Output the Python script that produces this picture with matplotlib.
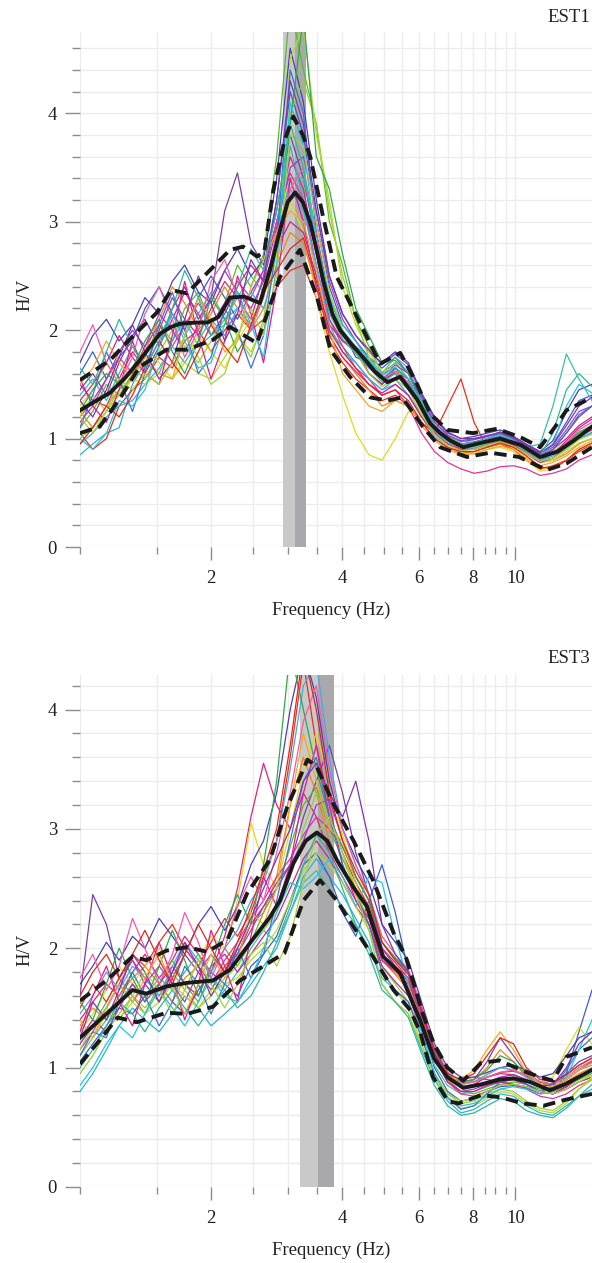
import matplotlib
matplotlib.use("Agg")
import matplotlib.pyplot as plt
from matplotlib.ticker import NullFormatter

plt.rcParams['font.family'] = ['Liberation Serif', 'DejaVu Serif']
plt.rcParams['font.size'] = 13.5

# frequency grid of the single windows (Hz)
FREQ = [1.00, 1.07, 1.15, 1.23, 1.32, 1.41, 1.52, 1.63, 1.74, 1.87,
        2.00, 2.15, 2.30, 2.47, 2.64, 2.83, 3.04, 3.26, 3.49, 3.74,
        4.01, 4.30, 4.61, 4.94, 5.30, 5.68, 6.09, 6.52, 6.99, 7.50,
        8.04, 8.61, 9.23, 9.90, 10.6, 11.4, 12.2, 13.1, 14.0, 15.0]

WIN_COLORS = ['#d6267f', '#7b3fa0', '#5cb82e', '#2ab3d6', '#e8301c', '#3b5fc9',
              '#e3d91a', '#3cbfa0', '#f0841a', '#e0359a', '#4a3fb5', '#93cf3a',
              '#c2288e', '#49a6e8', '#9a3fbf', '#bcd62a', '#e8188c', '#2fa84f',
              '#3f6fd8', '#f25aa8', '#23c4e0', '#f5a623', '#8034b0', '#a6d23b',
              '#d9291f', '#2db89a']

# ---- EST1 : single window H/V curves
EST1_WINDOWS = [
    [1.20,1.35,1.30,1.55,1.80,1.65,2.00,2.30,2.10,1.95,2.20,2.45,2.30,2.10,2.50,3.00,3.60,3.30,2.70,2.10,1.90,1.85,1.60,1.50,1.65,1.50,1.25,1.08,0.98,0.90,0.92,0.98,1.02,0.95,0.88,0.80,0.86,0.98,1.10,1.18],
    [1.45,1.60,1.40,1.70,1.95,2.10,1.85,2.20,2.40,2.10,2.30,3.10,3.45,2.80,2.60,3.10,3.80,3.40,2.80,2.30,2.00,1.75,1.70,1.55,1.60,1.45,1.30,1.12,1.00,0.95,0.97,1.00,1.05,0.98,0.90,0.82,0.90,1.05,1.20,1.30],
    [1.10,1.25,1.50,1.40,1.60,1.75,2.05,1.90,2.20,2.35,2.05,2.25,2.60,2.40,2.70,3.60,5.00,4.40,3.90,3.00,2.60,2.10,1.85,1.60,1.70,1.55,1.30,1.10,1.02,0.95,0.93,0.96,1.00,0.97,0.91,0.85,0.88,0.95,1.05,1.12],
    [0.85,0.95,1.05,1.10,1.50,1.70,1.60,1.90,2.10,1.85,1.95,2.10,2.20,2.05,2.30,2.90,3.70,3.20,2.50,2.00,1.85,1.70,1.55,1.45,1.55,1.40,1.22,1.06,0.96,0.92,0.92,0.95,1.00,0.95,0.88,0.80,0.84,0.92,1.00,1.06],
    [1.05,0.90,1.00,1.30,1.45,1.55,1.75,1.65,1.90,2.00,1.80,2.00,2.15,2.00,2.10,2.40,2.55,2.60,2.30,1.90,1.70,1.55,1.45,1.35,1.40,1.30,1.15,1.05,1.30,1.55,1.15,0.92,0.95,0.90,0.80,0.72,0.75,0.80,0.88,0.95],
    [1.60,1.80,1.55,1.75,1.90,2.20,2.40,2.15,2.00,2.30,2.50,2.30,2.10,2.35,2.55,3.20,4.20,3.80,3.00,2.40,2.05,1.90,1.75,1.65,1.75,1.60,1.35,1.15,1.03,0.97,0.99,1.02,1.06,1.00,0.93,0.86,0.95,1.15,1.35,1.40],
    [1.30,1.45,1.70,1.55,1.60,1.85,1.70,1.55,1.75,1.95,1.80,1.65,1.90,2.10,2.30,2.70,3.20,2.90,2.30,1.80,1.40,1.05,0.85,0.80,1.00,1.25,1.20,1.05,0.95,0.88,0.86,0.90,0.92,0.88,0.80,0.70,0.72,0.80,0.90,0.95],
    [1.40,1.55,1.35,1.60,1.85,1.70,1.95,2.15,1.95,2.15,2.35,2.10,2.30,2.50,2.35,2.80,3.40,3.40,2.90,2.30,2.00,1.85,1.75,1.60,1.75,1.65,1.35,1.12,1.02,0.98,0.96,1.00,1.04,0.99,0.92,0.95,1.30,1.78,1.55,1.35],
    [1.25,1.10,1.30,1.45,1.55,1.80,2.10,2.40,2.25,2.00,2.15,2.40,2.20,2.00,2.20,2.60,2.90,2.80,2.40,1.95,1.75,1.60,1.45,1.30,1.35,1.30,1.15,1.00,0.92,0.86,0.88,0.92,0.95,0.92,0.86,0.78,0.80,0.86,0.95,1.00],
    [1.15,1.30,1.55,1.75,1.60,1.85,2.05,1.85,2.05,2.25,2.05,2.25,2.45,2.30,2.55,3.00,3.45,3.20,2.60,2.10,1.85,1.65,1.55,1.40,1.45,1.30,1.05,0.88,0.78,0.72,0.68,0.70,0.74,0.75,0.72,0.66,0.68,0.72,0.80,0.85],
    [1.70,1.95,2.10,1.90,2.05,2.30,2.15,2.45,2.60,2.35,2.25,2.55,2.75,2.50,2.65,3.40,4.60,4.10,3.20,2.50,2.15,1.95,1.80,1.70,1.80,1.70,1.42,1.20,1.06,1.00,1.02,1.05,1.08,1.02,0.95,0.88,0.98,1.25,1.45,1.50],
    [1.00,1.10,1.25,1.45,1.65,1.55,1.80,2.00,1.85,1.70,1.90,2.10,1.95,1.75,2.10,2.90,4.00,4.30,3.90,3.10,2.50,2.10,1.75,1.55,1.62,1.52,1.30,1.10,0.98,0.92,0.92,0.96,0.99,0.95,0.88,0.82,0.86,0.95,1.05,1.10],
    [1.35,1.50,1.70,1.95,1.75,1.60,1.85,2.10,2.35,2.15,1.95,2.15,2.40,2.60,2.45,2.75,3.00,2.90,2.50,2.05,1.90,1.80,1.60,1.50,1.62,1.55,1.32,1.12,1.00,0.95,0.96,1.00,1.02,0.98,0.92,0.85,0.90,1.00,1.12,1.20],
    [0.95,1.05,1.20,1.30,1.35,1.50,1.65,1.85,1.70,1.90,2.10,1.95,2.20,2.35,2.20,2.60,3.30,3.10,2.60,2.05,1.80,1.70,1.55,1.45,1.50,1.40,1.20,1.02,0.94,0.90,0.91,0.95,0.98,0.94,0.87,0.80,0.82,0.90,1.00,1.05],
    [1.50,1.35,1.55,1.80,2.00,1.85,2.15,2.00,1.80,2.05,2.30,2.55,2.35,2.20,2.45,2.95,3.50,3.60,3.10,2.45,2.10,1.90,1.72,1.58,1.68,1.60,1.38,1.15,1.03,0.98,1.00,1.03,1.05,1.00,0.93,0.86,0.92,1.08,1.25,1.30],
    [1.20,1.40,1.25,1.40,1.55,1.50,1.60,1.55,1.70,1.60,1.55,1.75,1.95,1.80,2.05,2.70,4.50,4.80,3.80,3.20,2.40,2.05,1.80,1.62,1.65,1.50,1.25,1.05,0.95,0.90,0.90,0.93,0.96,0.93,0.86,0.78,0.80,0.88,0.96,1.00],
    [1.55,1.30,1.15,1.45,1.90,1.60,1.50,1.95,2.45,1.95,1.55,1.90,2.50,2.15,1.70,2.40,3.40,3.00,2.40,1.95,1.75,1.62,1.50,1.42,1.50,1.40,1.20,1.05,0.95,0.90,0.90,0.94,0.98,0.94,0.86,0.78,0.82,0.92,1.02,1.08],
    [1.25,1.45,1.60,1.50,1.65,1.90,2.10,1.80,1.60,1.90,2.30,2.10,1.80,2.00,2.40,2.80,3.90,4.90,3.60,3.30,2.70,2.20,1.95,1.70,1.72,1.60,1.32,1.10,1.00,0.95,0.95,0.98,1.00,0.96,0.89,0.83,0.87,0.96,1.06,1.12],
    [1.10,1.40,1.80,1.55,1.25,1.60,2.05,2.35,2.00,1.60,1.75,2.20,2.00,1.65,1.95,2.80,4.40,4.00,2.90,2.25,1.95,1.80,1.65,1.55,1.65,1.55,1.30,1.10,0.99,0.94,0.94,0.98,1.02,0.97,0.90,0.83,0.90,1.05,1.22,1.30],
    [1.80,2.05,1.70,1.50,1.75,2.15,2.40,2.10,1.75,2.00,2.45,2.65,2.30,2.00,2.30,2.90,3.30,3.50,2.90,2.20,1.95,1.85,1.68,1.55,1.62,1.52,1.28,1.08,0.98,0.93,0.94,0.98,1.01,0.96,0.89,0.82,0.86,0.96,1.08,1.15],
    [1.00,0.90,1.05,1.35,1.30,1.45,1.85,2.15,1.90,1.65,1.70,2.05,2.35,2.05,1.75,2.60,4.10,3.70,2.80,2.30,2.05,1.90,1.72,1.58,1.66,1.55,1.32,1.12,1.00,0.95,0.96,1.00,1.03,0.98,0.90,0.84,0.95,1.30,1.50,1.42],
    [1.50,1.65,1.90,1.70,1.55,1.75,1.60,1.55,1.95,2.30,2.10,1.80,1.90,2.40,2.65,2.90,3.10,3.00,2.55,2.00,1.60,1.45,1.30,1.25,1.35,1.30,1.12,0.98,0.90,0.85,0.86,0.90,0.93,0.90,0.82,0.75,0.78,0.84,0.92,0.98],
    [1.35,1.20,1.45,1.75,2.05,1.80,1.55,1.70,2.10,2.50,2.25,1.90,2.15,2.65,2.45,3.20,4.30,3.90,3.10,2.50,2.15,1.95,1.82,1.68,1.78,1.68,1.40,1.18,1.05,1.00,1.00,1.02,1.06,1.01,0.94,0.87,0.94,1.12,1.30,1.38],
    [1.20,1.05,1.25,1.55,1.45,1.60,1.50,1.70,1.95,1.75,1.50,1.60,1.95,2.20,1.95,2.50,3.80,3.70,3.00,2.35,2.00,1.80,1.60,1.48,1.55,1.45,1.22,1.04,0.94,0.89,0.90,0.94,0.97,0.93,0.86,0.79,0.82,0.90,0.99,1.04],
    [0.95,1.10,1.30,1.20,1.40,1.65,1.90,1.70,1.55,1.80,2.05,1.85,1.70,2.05,2.35,2.55,2.75,2.85,2.45,2.00,1.80,1.65,1.50,1.40,1.45,1.35,1.15,1.00,0.92,0.88,0.88,0.92,0.96,0.92,0.84,0.74,0.72,0.80,0.90,0.96],
    [1.65,1.50,1.80,2.10,1.85,1.65,1.90,2.20,2.55,2.30,1.95,2.05,2.40,2.75,2.55,3.10,3.90,3.50,2.75,2.15,1.92,1.78,1.66,1.52,1.60,1.50,1.28,1.08,0.98,0.93,0.93,0.97,1.00,0.96,0.89,0.84,1.05,1.45,1.60,1.48],
]

# EST1 average and +/- std curves
EST1_MEAN_F = [1.00,1.08,1.17,1.27,1.37,1.45,1.53,1.62,1.70,1.85,1.96,2.08,2.21,2.38,2.59,2.73,2.88,3.00,3.12,3.25,3.38,3.50,3.62,3.80,3.96,4.20,4.47,4.75,5.08,5.44,5.95,6.37,6.72,7.10,7.59,8.32,9.22,10.3,11.4,12.5,13.6,15.0]
EST1_MEAN = [1.26,1.34,1.42,1.56,1.72,1.85,1.97,2.03,2.06,2.07,2.07,2.12,2.30,2.31,2.25,2.55,2.92,3.18,3.27,3.18,2.99,2.73,2.46,2.15,2.00,1.87,1.75,1.62,1.52,1.57,1.36,1.14,1.05,0.98,0.92,0.96,1.00,0.94,0.83,0.88,0.98,1.11]
EST1_UP_F = [1.00,1.17,1.32,1.50,1.62,1.76,2.02,2.21,2.37,2.55,2.65,2.78,2.95,3.09,3.25,3.38,3.62,3.89,4.33,4.89,5.44,5.95,6.37,6.98,8.0,9.07,10.3,11.4,12.3,13.1,14.0,15.0]
EST1_UP = [1.54,1.72,1.94,2.16,2.37,2.34,2.58,2.74,2.77,2.68,2.72,3.29,3.75,3.97,3.80,3.60,3.04,2.49,2.12,1.69,1.79,1.50,1.23,1.08,1.05,1.09,1.01,0.92,1.10,1.26,1.32,1.38]
EST1_LO_F = [1.00,1.11,1.24,1.37,1.58,1.76,2.02,2.21,2.55,2.88,3.20,3.50,3.76,4.17,4.64,5.08,5.50,6.13,6.72,7.74,8.76,10.2,11.8,13.1,15.0]
EST1_LO = [1.05,1.11,1.38,1.66,1.82,1.82,1.91,2.03,1.88,2.49,2.74,2.31,1.82,1.57,1.38,1.35,1.38,1.11,0.92,0.83,0.87,0.83,0.71,0.77,0.92]
EST1_F0_BAND = [2.93, 3.12, 3.31]

# ---- EST3 : single window H/V curves
EST3_WINDOWS = [
    [1.40,1.55,1.70,1.60,1.80,1.95,1.75,1.90,2.10,1.95,1.80,2.10,2.50,3.10,3.55,3.20,3.00,3.30,3.10,2.80,2.60,2.40,2.20,1.90,1.80,1.70,1.40,1.10,0.92,0.84,0.86,0.92,0.95,0.94,0.90,0.84,0.82,0.90,0.98,1.05],
    [1.60,2.45,2.20,1.75,1.90,1.70,1.55,1.75,1.95,1.80,1.65,1.85,1.95,2.20,2.35,2.50,2.70,3.10,3.40,3.70,3.30,2.80,2.45,2.05,1.90,1.80,1.45,1.12,0.95,0.88,0.90,1.05,1.25,1.10,0.95,0.88,0.86,0.95,1.05,1.10],
    [1.20,1.35,1.55,1.75,1.60,1.45,1.70,1.90,1.70,1.55,1.80,2.00,1.85,2.05,2.30,2.50,2.85,3.20,3.35,3.00,2.75,2.50,2.30,1.95,1.85,1.72,1.42,1.10,0.90,0.80,0.78,0.82,0.86,0.88,0.86,0.82,0.80,0.84,0.90,0.95],
    [0.80,0.95,1.15,1.35,1.50,1.40,1.30,1.45,1.60,1.50,1.35,1.45,1.55,1.70,1.85,2.00,2.30,2.60,2.75,2.60,2.45,2.25,2.05,1.70,1.55,1.45,1.15,0.90,0.72,0.62,0.65,0.72,0.78,0.76,0.68,0.62,0.60,0.68,0.76,0.82],
    [1.50,1.70,1.55,1.75,1.95,1.85,2.05,2.20,2.00,1.85,2.05,2.25,2.10,2.30,2.60,2.90,3.60,4.40,3.70,3.10,2.80,2.55,2.35,2.00,1.88,1.75,1.45,1.15,0.96,0.87,0.88,0.92,0.96,0.97,0.93,0.87,0.84,0.90,0.98,1.05],
    [1.05,1.20,1.35,1.50,1.45,1.60,1.70,1.55,1.45,1.65,1.80,1.70,1.60,1.85,1.95,2.10,2.40,2.70,2.80,2.60,2.30,2.10,2.40,2.70,2.30,1.80,1.35,1.00,0.80,0.72,0.74,0.80,0.84,0.85,0.83,0.78,0.80,0.95,1.30,1.65],
    [1.30,1.45,1.65,1.85,1.70,1.85,2.00,1.80,1.65,1.90,2.10,2.00,2.40,3.05,2.70,2.50,3.00,3.50,3.80,3.40,2.95,2.60,2.45,2.10,1.95,1.80,1.48,1.15,0.95,0.86,0.88,0.95,1.00,0.98,0.92,0.86,0.92,1.15,1.34,1.20],
    [1.10,1.25,1.40,1.55,1.70,1.60,1.75,1.65,1.80,1.95,1.75,1.65,1.80,2.00,2.15,2.05,2.30,2.55,2.65,2.50,2.35,2.20,2.00,1.75,1.65,1.55,1.30,1.02,0.85,0.78,0.80,0.84,0.88,0.86,0.84,0.80,0.78,0.82,0.88,0.92],
    [1.35,1.50,1.40,1.60,1.75,1.85,1.70,1.55,1.75,1.85,1.70,1.85,2.00,2.20,2.30,2.60,3.20,3.60,3.30,2.90,2.65,2.45,2.25,1.90,1.78,1.65,1.38,1.08,0.90,0.85,0.90,1.00,1.15,1.05,0.92,0.85,0.82,0.88,0.95,1.00],
    [1.15,1.30,1.50,1.70,1.90,1.75,1.60,1.80,2.00,1.85,1.70,1.90,2.05,2.25,2.40,2.60,2.75,2.95,3.10,3.00,2.85,2.60,2.40,2.00,1.85,1.75,1.45,1.10,0.88,0.78,0.76,0.80,0.85,0.86,0.82,0.76,0.74,0.78,0.85,0.90],
    [1.70,1.85,2.05,1.90,2.10,2.00,2.25,2.10,1.95,2.20,2.35,2.15,2.35,2.70,2.90,3.30,4.00,4.50,4.10,3.40,3.00,2.75,2.55,2.20,2.05,1.90,1.55,1.20,1.00,0.92,0.92,0.96,1.00,1.02,0.98,0.92,0.95,1.10,1.25,1.30],
    [0.95,1.10,1.30,1.45,1.60,1.50,1.65,1.80,1.65,1.50,1.60,1.75,1.85,2.05,2.15,2.30,2.60,3.00,3.30,3.10,2.80,2.50,2.20,1.85,1.70,1.55,1.25,0.95,0.78,0.70,0.72,0.78,0.82,0.80,0.72,0.66,0.64,0.72,0.82,0.90],
    [1.25,1.40,1.30,1.50,1.70,1.55,1.70,1.85,1.70,1.60,1.85,1.95,1.80,1.95,2.10,2.25,2.50,2.75,2.90,2.75,2.55,2.35,2.20,1.85,1.72,1.60,1.32,1.05,0.92,0.90,0.92,0.90,0.88,0.86,0.84,0.80,0.78,0.82,0.88,0.92],
    [1.45,1.60,1.80,1.65,1.85,1.75,1.60,1.85,2.05,1.90,1.80,2.00,2.15,2.40,2.55,2.90,3.50,4.20,4.40,3.60,3.00,2.70,2.45,2.05,1.92,1.80,1.50,1.15,0.94,0.86,0.88,0.94,1.00,0.98,0.92,0.86,0.84,0.90,0.98,1.02],
    [1.20,1.35,1.50,1.70,1.55,1.70,1.85,1.70,1.55,1.80,1.95,1.80,1.95,2.15,2.35,2.55,2.70,2.90,3.20,3.25,2.90,2.60,2.40,2.00,1.85,1.72,1.42,1.08,0.88,0.80,0.82,0.86,0.88,0.90,0.86,0.80,0.78,0.84,0.92,0.98],
    [1.10,1.25,1.45,1.40,1.55,1.45,1.55,1.70,1.60,1.50,1.65,1.70,1.75,1.90,2.00,2.15,2.40,2.65,2.80,2.70,2.55,2.35,2.15,1.80,1.65,1.50,1.20,0.92,0.74,0.66,0.68,0.74,0.80,0.78,0.70,0.64,0.62,0.70,0.82,0.92],
    [1.30,1.60,1.85,1.55,1.35,1.70,2.05,1.75,1.40,1.70,2.15,1.85,1.55,2.10,2.60,2.35,2.70,3.30,3.70,3.20,2.70,2.40,2.25,1.90,1.80,1.68,1.40,1.08,0.88,0.80,0.80,0.85,0.88,0.90,0.86,0.80,0.78,0.84,0.92,0.98],
    [1.55,1.40,1.70,2.00,1.75,1.55,1.85,2.15,1.90,1.60,1.85,2.20,2.45,2.20,2.70,3.40,4.50,4.00,3.50,3.10,2.85,2.60,2.40,2.05,1.92,1.80,1.50,1.15,0.95,0.88,0.90,0.98,1.10,1.05,0.94,0.88,0.86,0.94,1.02,1.08],
    [1.10,1.30,1.25,1.55,1.80,1.60,1.35,1.55,1.85,1.70,1.45,1.70,2.00,1.75,1.95,2.40,2.90,3.40,3.60,3.10,2.70,2.45,2.20,1.80,1.65,1.55,1.25,0.95,0.75,0.65,0.68,0.78,0.88,0.92,0.86,0.80,0.84,0.98,1.15,1.25],
    [1.75,1.95,1.65,1.85,2.25,2.00,1.70,1.95,2.30,2.05,1.75,2.00,2.35,2.60,2.40,2.80,3.30,3.90,4.20,3.50,3.00,2.70,2.45,2.10,1.95,1.82,1.52,1.18,0.96,0.88,0.88,0.92,0.96,0.98,0.94,0.88,0.86,0.92,1.00,1.06],
    [0.85,1.00,1.20,1.35,1.25,1.45,1.65,1.50,1.35,1.55,1.75,1.60,1.55,1.75,2.00,2.30,2.55,2.50,2.60,2.75,2.60,2.35,2.60,2.55,2.10,1.70,1.30,0.95,0.75,0.68,0.70,0.76,0.82,0.84,0.82,0.78,0.80,0.92,1.15,1.40],
    [1.40,1.25,1.50,1.70,1.55,1.75,1.95,1.70,1.45,1.70,1.95,1.75,1.90,2.30,2.20,2.50,3.20,3.80,3.40,3.00,2.90,2.55,2.30,1.95,1.80,1.68,1.40,1.10,0.92,0.90,0.98,1.15,1.30,1.15,0.96,0.86,0.84,0.90,0.98,1.04],
    [1.25,1.55,1.40,1.65,1.95,1.80,1.55,1.80,2.05,1.85,1.60,1.80,2.00,2.25,2.50,2.75,3.00,3.40,3.55,3.30,3.10,3.40,2.90,2.20,1.95,1.80,1.48,1.12,0.92,0.84,0.84,0.88,0.92,0.94,0.90,0.84,0.86,1.00,1.20,1.30],
    [1.15,1.35,1.50,1.40,1.60,1.80,1.65,1.45,1.65,1.90,1.70,1.50,1.70,1.95,2.05,1.85,2.10,2.55,2.95,3.10,2.80,2.45,2.15,1.70,1.55,1.45,1.18,0.92,0.78,0.72,0.74,0.80,0.85,0.86,0.84,0.80,0.78,0.82,0.88,0.94],
    [1.60,1.80,1.95,1.75,1.95,2.15,1.90,1.70,1.95,2.20,2.00,1.80,2.05,2.35,2.65,3.00,3.70,4.50,4.00,3.30,2.90,2.65,2.45,2.05,1.90,1.78,1.48,1.15,0.95,0.90,0.95,1.10,1.25,1.20,1.00,0.90,0.88,0.94,1.02,1.08],
    [1.00,1.15,1.35,1.55,1.45,1.30,1.50,1.65,1.50,1.35,1.50,1.65,1.50,1.60,1.80,2.05,2.35,2.70,2.95,2.80,2.50,2.20,1.95,1.65,1.55,1.42,1.12,0.85,0.68,0.60,0.62,0.68,0.74,0.72,0.64,0.60,0.58,0.66,0.76,0.86],
]

EST3_MEAN_F = [1.00,1.15,1.32,1.42,1.58,1.76,2.02,2.21,2.50,2.73,2.88,3.09,3.30,3.50,3.70,3.89,4.25,4.56,4.97,5.44,6.04,6.50,6.98,7.59,8.35,9.2,9.9,10.8,12.0,13.0,15.0]
EST3_MEAN = [1.25,1.45,1.65,1.62,1.68,1.71,1.73,1.82,2.08,2.26,2.40,2.71,2.90,2.97,2.90,2.74,2.51,2.35,1.93,1.79,1.40,1.08,0.92,0.83,0.86,0.90,0.91,0.88,0.81,0.86,0.98]
EST3_UP_F = [1.00,1.15,1.32,1.42,1.58,1.76,1.96,2.18,2.42,2.73,2.99,3.33,3.50,3.82,4.25,4.71,5.25,5.60,6.13,6.50,6.98,7.59,8.35,9.2,10.3,11.2,12.2,13.1,15.0]
EST3_UP = [1.56,1.73,1.93,1.90,1.98,2.01,1.97,2.07,2.46,2.74,3.18,3.58,3.52,3.21,2.90,2.57,2.13,1.93,1.45,1.20,1.00,0.89,1.04,1.06,0.98,0.93,0.89,1.09,1.17]
EST3_LO_F = [1.00,1.11,1.22,1.35,1.58,1.76,2.02,2.33,2.69,2.95,3.26,3.56,3.89,4.25,4.71,5.25,5.74,6.04,6.47,7.00,7.40,8.35,9.3,10.4,11.6,13.0,15.0]
EST3_LO = [1.03,1.23,1.42,1.38,1.46,1.45,1.51,1.73,1.87,1.96,2.40,2.57,2.40,2.18,1.93,1.65,1.48,1.30,0.92,0.72,0.70,0.77,0.75,0.70,0.68,0.73,0.78]
EST3_F0_BAND = [3.20, 3.52, 3.83]

XMAJOR = [2, 4, 6, 8, 10]
XMAJOR_LABELS = ['2', '4', '6', '8', '10']
XMINOR = [1, 1.5, 2.5, 3, 3.5, 4.5, 5, 5.5, 6.5, 7, 7.5, 8.5, 9, 9.5]
YMAJOR = [0, 1, 2, 3, 4]
YMINOR = [0.2, 0.4, 0.6, 0.8, 1.2, 1.4, 1.6, 1.8, 2.2, 2.4, 2.6, 2.8,
          3.2, 3.4, 3.6, 3.8, 4.2, 4.4, 4.6]


def draw_panel(ax, windows, mf, mv, uf, uv, lf, lv, band, ytop, label_y):
    ax.set_xscale('log')
    ax.set_xlim(1, 15)
    ax.set_ylim(0, ytop)
    for s in ax.spines.values():
        s.set_visible(False)

    # peak frequency +/- std
    ax.axvspan(band[0], band[1], color='#c9c9c9', lw=0, zorder=1)
    ax.axvspan(band[1], band[2], color='#a9a9ac', lw=0, zorder=1)

    for i, w in enumerate(windows):
        ax.plot(FREQ, w, color=WIN_COLORS[i % len(WIN_COLORS)], lw=0.9, zorder=2)

    ax.plot(mf, mv, color='#1a1a1a', lw=2.8, zorder=4)
    ax.plot(uf, uv, color='#1a1a1a', lw=2.8, dashes=(3.2, 1.7), zorder=4)
    ax.plot(lf, lv, color='#1a1a1a', lw=2.8, dashes=(3.2, 1.7), zorder=4)

    ax.set_xticks(XMAJOR, labels=XMAJOR_LABELS)
    ax.set_xticks(XMINOR, minor=True)
    ax.xaxis.set_minor_formatter(NullFormatter())
    ax.set_yticks(YMAJOR)
    ax.set_yticks([y for y in YMINOR if y < ytop], minor=True)

    ax.grid(True, which='both', color='#ececec', lw=1.0, zorder=0)
    ax.set_axisbelow(True)
    ax.tick_params(axis='both', which='both', color='#8c8c8c', width=1.0, direction='out')
    ax.tick_params(axis='x', which='major', length=9.5, pad=7)
    ax.tick_params(axis='x', which='minor', length=5)
    ax.tick_params(axis='y', which='major', length=10.5, pad=6)
    ax.tick_params(axis='y', which='minor', length=5.5)
    ax.tick_params(labelcolor='#222222')

    ax.set_xlabel('Frequency (Hz)', color='#222222')
    ax.xaxis.set_label_coords(0.49, -0.106)
    ax.set_ylabel('H/V', color='#222222')
    ax.yaxis.set_label_coords(-0.09, label_y)


fig = plt.figure(figsize=(5.92, 12.63), dpi=100)
ax1 = fig.add_axes([0.1351, 0.5669, 0.8649, 0.4078])
ax2 = fig.add_axes([0.1351, 0.0602, 0.8649, 0.4054])

draw_panel(ax1, EST1_WINDOWS, EST1_MEAN_F, EST1_MEAN, EST1_UP_F, EST1_UP,
           EST1_LO_F, EST1_LO, EST1_F0_BAND, 4.75, 0.49)
draw_panel(ax2, EST3_WINDOWS, EST3_MEAN_F, EST3_MEAN, EST3_UP_F, EST3_UP,
           EST3_LO_F, EST3_LO, EST3_F0_BAND, 4.29, 0.463)

fig.text(0.997, 0.9865, 'EST1', ha='right', va='center', color='#222222')
fig.text(0.997, 0.479, 'EST3', ha='right', va='center', color='#222222')

fig.savefig('out.png', dpi=100)
